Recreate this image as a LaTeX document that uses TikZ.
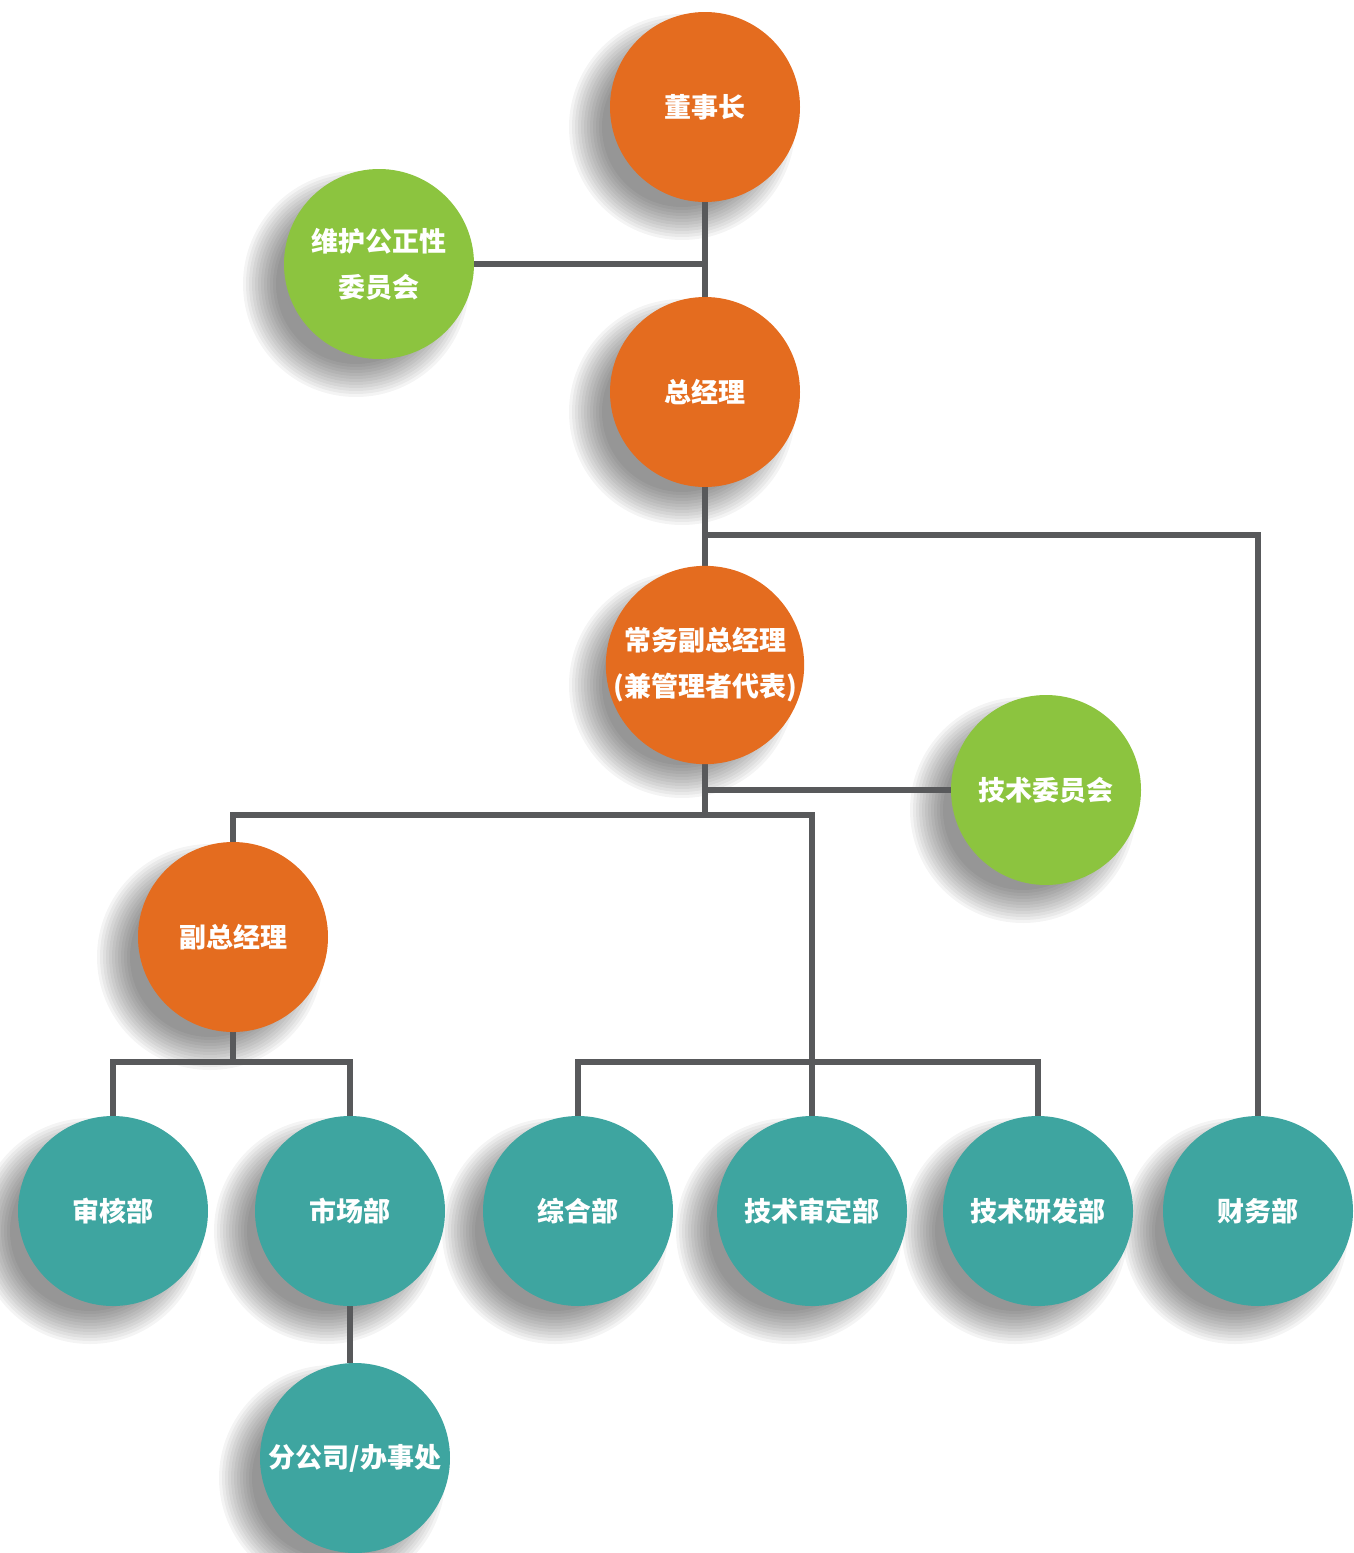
\documentclass[tikz,border=0pt]{standalone}
\usepackage{fontspec}
\newfontfamily\cjk{Noto Sans CJK SC}
\usetikzlibrary{backgrounds}

\definecolor{boardorange}{HTML}{E46C1F}
\definecolor{commgreen}{HTML}{8CC43F}
\definecolor{deptteal}{HTML}{3EA5A0}
\definecolor{linkgrey}{HTML}{58595B}

\tikzset{
  unit/.style={circle, minimum size=190pt, inner sep=0pt, text=white,
    align=center, font=\cjk\bfseries\fontsize{27}{46}\selectfont},
  lead/.style={unit, fill=boardorange},
  comm/.style={unit, fill=commgreen},
  dept/.style={unit, fill=deptteal},
  link/.style={draw=linkgrey, line width=6pt},
  shadowring/.style={fill=black, opacity=0.045},
}

\begin{document}
\begin{tikzpicture}[x=1pt, y=-1pt]
\useasboundingbox (0,0) rectangle (1353,1553);

% units
\node[lead] (dsz)  at (705,107)  {董事长};
\node[comm] (whgz) at (379,264)  {维护公正性\\委员会};
\node[lead] (zjl)  at (705,392)  {总经理};
\node[lead] (cwfz) at (705,665)  {常务副总经理\\(兼管理者代表)};
\node[comm] (jswy) at (1046,790) {技术委员会};
\node[lead] (fzjl) at (233,937)  {副总经理};
\node[dept] (shb)  at (113,1211) {审核部};
\node[dept] (scb)  at (350,1211) {市场部};
\node[dept] (zhb)  at (578,1211) {综合部};
\node[dept] (jsdb) at (812,1211) {技术审定部};
\node[dept] (jyfb) at (1038,1211){技术研发部};
\node[dept] (cwb)  at (1258,1211){财务部};
\node[dept] (fgs)  at (355,1458) {分公司/办事处};

% rails for the horizontal bars
\coordinate (railA) at (0,535);
\coordinate (railB) at (0,815);
\coordinate (railC) at (0,1062);

\begin{scope}[on background layer]
  % soft shadows: stacked translucent discs, offset down-left
  \foreach \n in {dsz,whgz,zjl,cwfz,jswy,fzjl,shb,scb,zhb,jsdb,jyfb,cwb,fgs}
    \foreach \r in {80,83,...,114}
      \fill[shadowring] ([shift={(-23,20)}]\n.center) circle (\r);

  % connectors
  \draw[link] (dsz.south) -- (zjl.north);
  \draw[link] (whgz.east) -- (whgz.east -| dsz.south);
  \draw[link] (zjl.south) -- (cwfz.north);
  \draw[link] (zjl.south |- railA) -| (cwb.north);
  \draw[link] (cwfz.south) -- (cwfz.south |- railB);
  \draw[link] (jswy.west) -- (jswy.west -| cwfz.south);
  \draw[link] (fzjl.north) |- (jsdb.north |- railB) -- (jsdb.north);
  \draw[link] (zhb.north) |- (jyfb.north |- railC) -- (jyfb.north);
  \draw[link] (fzjl.south) -- (fzjl.south |- railC);
  \draw[link] (shb.north) |- (scb.north |- railC) -- (scb.north);
  \draw[link] (scb.south) -- (scb.south |- fgs.north);
\end{scope}
\end{tikzpicture}
\end{document}
